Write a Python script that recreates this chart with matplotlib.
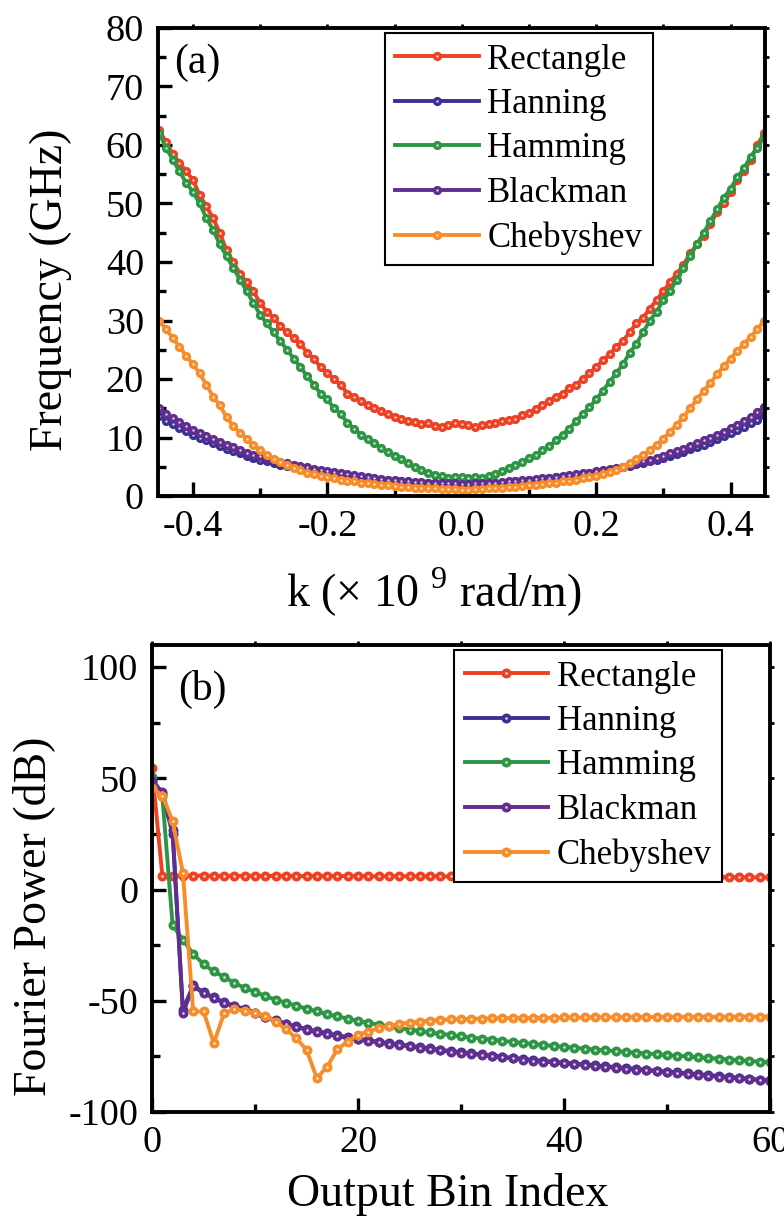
import numpy as np
import matplotlib
matplotlib.use("Agg")
import matplotlib.pyplot as plt
from matplotlib.ticker import MultipleLocator, FormatStrFormatter
from matplotlib.legend_handler import HandlerTuple

plt.rcParams['font.family'] = ['Liberation Serif', 'DejaVu Serif']
plt.rcParams['mathtext.fontset'] = 'custom'
plt.rcParams['mathtext.rm'] = 'Liberation Serif'
plt.rcParams['axes.unicode_minus'] = False

names = ["Rectangle", "Hanning", "Hamming", "Blackman", "Chebyshev"]
colors = ["#EE4023", "#3B3192", "#2E9545", "#5F2E8E", "#F78C2A"]

# (a) dispersion, k in 1e9 rad/m, frequency in GHz
k = np.round(np.arange(-45, 46) / 100.0, 2)

freq_rect = [62.5, 60.5, 58.5, 57.0, 55.5, 54.0, 51.5, 49.5, 47.5, 45.0,
             42.0, 40.0, 38.0, 36.5, 35.0, 33.0, 31.5, 30.5, 29.0, 28.0,
             27.0, 26.0, 24.5, 23.5, 22.0, 21.0, 20.0, 19.0, 17.5, 17.0,
             16.2, 15.5, 15.0, 14.5, 14.0, 13.5, 13.2, 12.8, 12.6, 12.3,
             12.4, 12.0, 11.8, 12.2, 12.4, 12.3, 12.2, 11.8, 12.2, 12.3,
             12.5, 12.8, 13.0, 13.2, 13.8, 14.2, 14.8, 15.5, 16.2, 17.0,
             17.5, 18.5, 19.0, 20.0, 21.0, 22.0, 23.2, 24.2, 25.5, 26.5,
             28.0, 29.5, 30.5, 32.0, 33.5, 35.0, 36.5, 38.0, 39.5, 41.5,
             43.0, 44.5, 46.5, 48.5, 50.0, 52.0, 54.0, 55.5, 57.5, 60.0,
             62.0]

freq_hann = [13.6, 12.9, 12.3, 11.7, 11.1, 10.5, 10.0, 9.5, 9.0, 8.6,
             8.1, 7.7, 7.3, 6.9, 6.5, 6.2, 5.9, 5.6, 5.3, 5.1,
             4.9, 4.7, 4.5, 4.3, 4.1, 3.9, 3.8, 3.6, 3.5, 3.3,
             3.2, 3.0, 2.9, 2.8, 2.7, 2.6, 2.5, 2.4, 2.3, 2.3,
             2.2, 2.2, 2.1, 2.1, 2.1, 2.0, 2.0, 2.1, 2.1, 2.2,
             2.2, 2.3, 2.4, 2.5, 2.6, 2.7, 2.8, 2.9, 3.0, 3.2,
             3.3, 3.5, 3.6, 3.8, 3.9, 4.1, 4.3, 4.5, 4.7, 4.9,
             5.1, 5.4, 5.6, 5.9, 6.2, 6.5, 6.9, 7.2, 7.6, 8.0,
             8.4, 8.8, 9.3, 9.7, 10.2, 10.7, 11.2, 11.8, 12.4, 13.0,
             13.8]

freq_hamm = [62.0, 59.5, 57.5, 55.5, 53.5, 52.0, 50.0, 47.5, 45.5, 43.0,
             41.0, 39.0, 37.0, 35.0, 33.0, 31.0, 29.5, 28.0, 26.5, 25.0,
             23.5, 22.0, 20.5, 19.0, 17.5, 16.5, 15.0, 14.0, 12.5, 11.5,
             10.5, 9.8, 9.0, 8.2, 7.5, 6.8, 6.3, 5.6, 5.0, 4.5,
             4.0, 3.6, 3.4, 3.1, 3.2, 3.3, 3.0, 3.2, 3.1, 3.4,
             3.8, 4.2, 4.8, 5.3, 5.8, 6.5, 7.0, 7.8, 8.5, 9.5,
             10.5, 11.5, 12.8, 14.0, 15.2, 16.5, 18.0, 19.5, 21.0, 22.5,
             24.5, 26.0, 28.0, 30.0, 31.5, 33.5, 35.0, 37.0, 39.0, 41.0,
             43.0, 45.0, 47.0, 49.0, 51.0, 52.5, 54.5, 56.0, 58.0, 59.5,
             61.5]

freq_black = [15.0, 14.0, 13.3, 12.6, 12.0, 11.3, 10.7, 10.2, 9.7, 9.2,
              8.7, 8.3, 7.8, 7.4, 7.0, 6.9, 6.5, 6.1, 5.8, 5.6,
              5.3, 5.1, 4.9, 4.7, 4.5, 4.3, 4.1, 3.9, 3.7, 3.6,
              3.4, 3.2, 3.0, 2.9, 2.8, 2.7, 2.6, 2.5, 2.4, 2.4,
              2.3, 2.3, 2.2, 2.2, 2.2, 2.1, 2.1, 2.2, 2.2, 2.3,
              2.3, 2.4, 2.5, 2.6, 2.7, 2.8, 2.9, 3.0, 3.1, 3.3,
              3.4, 3.6, 3.7, 3.9, 4.0, 4.2, 4.4, 4.6, 4.8, 5.0,
              5.3, 5.6, 5.9, 6.2, 6.5, 6.9, 7.3, 7.7, 8.1, 8.5,
              9.0, 9.5, 10.0, 10.5, 11.0, 11.6, 12.2, 12.8, 13.5, 14.3,
              15.2]

freq_cheb = [30.0, 28.5, 27.0, 25.5, 24.0, 22.5, 21.0, 19.0, 17.0, 15.5,
             13.5, 12.0, 10.8, 9.8, 8.8, 7.8, 7.0, 6.3, 5.8, 5.3,
             4.8, 4.4, 4.0, 3.7, 3.4, 3.2, 3.0, 2.8, 2.6, 2.5,
             2.3, 2.2, 2.0, 1.9, 1.8, 1.7, 1.6, 1.5, 1.4, 1.4,
             1.3, 1.3, 1.2, 1.2, 1.2, 1.1, 1.0, 1.2, 1.2, 1.3,
             1.3, 1.4, 1.5, 1.6, 1.7, 1.8, 1.9, 2.0, 2.2, 2.3,
             2.5, 2.6, 2.8, 3.0, 3.2, 3.5, 3.8, 4.1, 4.5, 5.0,
             5.6, 6.3, 7.0, 7.8, 8.8, 9.8, 11.0, 12.2, 13.5, 15.0,
             16.5, 18.0, 19.3, 20.8, 22.2, 23.5, 24.8, 26.0, 27.2, 28.5,
             30.0]

# (b) Fourier power (dB) vs output bin index
bins = np.arange(0, 61)

pow_rect = [54.5, 6.3, 6.3, 6.3, 6.3, 6.3, 6.2, 6.2, 6.2, 6.2,
            6.2, 6.2, 6.2, 6.2, 6.1, 6.1, 6.1, 6.1, 6.1, 6.1,
            6.1, 6.0, 6.0, 6.0, 6.0, 6.0, 6.0, 6.0, 6.0, 5.9,
            5.9, 5.9, 5.9, 5.9, 5.9, 5.9, 5.9, 5.8, 5.8, 5.8,
            5.8, 5.8, 5.8, 5.8, 5.8, 5.7, 5.7, 5.7, 5.7, 5.7,
            5.7, 5.7, 5.6, 5.6, 5.6, 5.6, 5.6, 5.6, 5.5, 5.5,
            5.5]

pow_hann = [49.5, 43.0, 25.0, -54.0, -43.0, -46.2, -48.5, -50.7, -52.2, -53.7,
            -55.3, -57.2, -58.7, -60.2, -61.5, -62.7, -63.7, -64.6, -65.5, -66.3,
            -67.0, -67.7, -68.4, -69.0, -69.6, -70.2, -70.8, -71.4, -72.0, -72.6,
            -73.1, -73.6, -74.1, -74.6, -75.1, -75.6, -76.1, -76.6, -77.0, -77.4,
            -77.8, -78.2, -78.6, -79.0, -79.4, -79.8, -80.2, -80.6, -81.0, -81.4,
            -81.8, -82.2, -82.6, -83.0, -83.4, -83.8, -84.2, -84.6, -85.0, -85.4,
            -85.8]

pow_hamm = [50.5, 42.0, -16.0, -22.5, -29.0, -33.5, -36.8, -39.3, -42.0, -44.2,
            -46.0, -47.8, -49.5, -50.8, -52.2, -53.5, -54.8, -56.0, -57.0, -58.0,
            -59.0, -59.9, -60.7, -61.5, -62.2, -62.9, -63.6, -64.2, -64.8, -65.4,
            -66.0, -66.5, -67.0, -67.5, -68.0, -68.5, -69.0, -69.4, -69.8, -70.3,
            -70.7, -71.1, -71.5, -71.9, -72.3, -72.6, -73.0, -73.3, -73.7, -74.0,
            -74.4, -74.7, -75.0, -75.4, -75.7, -76.0, -76.4, -76.7, -77.0, -77.4,
            -77.7]

pow_black = [48.8, 44.0, 27.0, -55.6, -43.5, -46.5, -48.8, -51.0, -52.5, -54.0,
             -55.6, -57.5, -59.0, -60.5, -61.8, -63.0, -64.0, -64.9, -65.8, -66.6,
             -67.3, -68.0, -68.7, -69.3, -69.9, -70.5, -71.1, -71.7, -72.3, -72.9,
             -73.4, -73.9, -74.4, -74.9, -75.4, -75.9, -76.4, -76.9, -77.3, -77.7,
             -78.1, -78.5, -78.9, -79.3, -79.7, -80.1, -80.5, -80.9, -81.3, -81.7,
             -82.1, -82.5, -82.9, -83.3, -83.7, -84.1, -84.5, -84.9, -85.3, -85.7,
             -86.1]

pow_cheb = [45.8, 42.3, 30.8, 7.5, -54.8, -54.8, -69.0, -55.6, -53.8, -54.4,
            -55.3, -56.8, -59.3, -62.8, -66.8, -72.0, -84.8, -79.6, -71.8, -68.3,
            -65.3, -63.8, -62.3, -61.3, -60.4, -59.8, -59.3, -58.9, -58.6, -58.4,
            -58.2, -58.1, -58.0, -57.9, -57.8, -57.8, -57.7, -57.7, -57.6, -57.6,
            -57.5, -57.5, -57.5, -57.4, -57.4, -57.4, -57.4, -57.3, -57.3, -57.3,
            -57.3, -57.3, -57.2, -57.2, -57.2, -57.2, -57.2, -57.1, -57.1, -57.1,
            -57.1]

freq_series = [freq_rect, freq_hann, freq_hamm, freq_black, freq_cheb]
pow_series = [pow_rect, pow_hann, pow_hamm, pow_black, pow_cheb]

fig = plt.figure(figsize=(7.84, 12.22), dpi=100)
ax1 = fig.add_axes([0.2015, 0.5941, 0.7740, 0.3830])
ax2 = fig.add_axes([0.1939, 0.0900, 0.7883, 0.3822])


def draw(ax, x, series, ms):
    handles = []
    for ys, c, name in zip(series, colors, names):
        ln, = ax.plot(x, ys, '-o', color=c, lw=2.8, ms=ms, mew=0, label=name)
        hl, = ax.plot(x, ys, 'o', color='white', ms=ms * 0.26, mew=0, alpha=0.8)
        handles.append((ln, hl))
    return handles


def style(ax, xmaj, xmin, ymaj, ymin):
    for s in ax.spines.values():
        s.set_linewidth(2.8)
    ax.xaxis.set_major_locator(MultipleLocator(xmaj))
    ax.xaxis.set_minor_locator(MultipleLocator(xmin))
    ax.yaxis.set_major_locator(MultipleLocator(ymaj))
    ax.yaxis.set_minor_locator(MultipleLocator(ymin))
    ax.tick_params(which='both', direction='in', width=2.4, labelsize=27.5)
    ax.tick_params(which='major', length=10, pad=10)
    ax.tick_params(which='minor', length=6)
    # small outward ticks on top and right
    top = ax.secondary_xaxis('top')
    top.xaxis.set_major_locator(MultipleLocator(xmin))
    top.tick_params(direction='out', width=2, length=3, labeltop=False)
    right = ax.secondary_yaxis('right')
    right.yaxis.set_major_locator(MultipleLocator(ymin))
    right.tick_params(direction='out', width=2, length=3, labelright=False)


h1 = draw(ax1, k, freq_series, 6.6)
ax1.set_xlim(-0.452, 0.451)
ax1.set_ylim(0, 80)
style(ax1, 0.2, 0.1, 10, 5)
ax1.xaxis.set_major_formatter(FormatStrFormatter('%.1f'))
ax1.set_xlabel('k (× 10 $^{9}$ rad/m)', fontsize=33)
ax1.set_ylabel('Frequency (GHz)', fontsize=33)
ax1.xaxis.set_label_coords(0.455, -0.15)
ax1.yaxis.set_label_coords(-0.142, 0.44)
ax1.text(0.026, 0.925, '(a)', transform=ax1.transAxes, fontsize=30,
         ha='left', va='center')

h2 = draw(ax2, bins, pow_series, 7.2)
ax2.set_xlim(0, 60)
ax2.set_ylim(-100, 110)
style(ax2, 20, 10, 50, 25)
ax2.set_xlabel('Output Bin Index', fontsize=33)
ax2.set_ylabel('Fourier Power (dB)', fontsize=33)
ax2.xaxis.set_label_coords(0.478, -0.13)
ax2.yaxis.set_label_coords(-0.157, 0.418)
ax2.text(0.042, 0.904, '(b)', transform=ax2.transAxes, fontsize=30,
         ha='left', va='center')

for ax, anchor, hs in ((ax1, (0.374, 0.989), h1), (ax2, (0.489, 0.989), h2)):
    leg = ax.legend(hs, names, handler_map={tuple: HandlerTuple(ndivide=1)},
                    loc='upper left', bbox_to_anchor=anchor,
                    fontsize=25, frameon=True, fancybox=False, framealpha=1,
                    edgecolor='black', borderaxespad=0, borderpad=0.3,
                    handlelength=2.4, handletextpad=0.25, labelspacing=0.33)
    leg.get_frame().set_linewidth(1.5)

fig.savefig('out.png', dpi=100)
